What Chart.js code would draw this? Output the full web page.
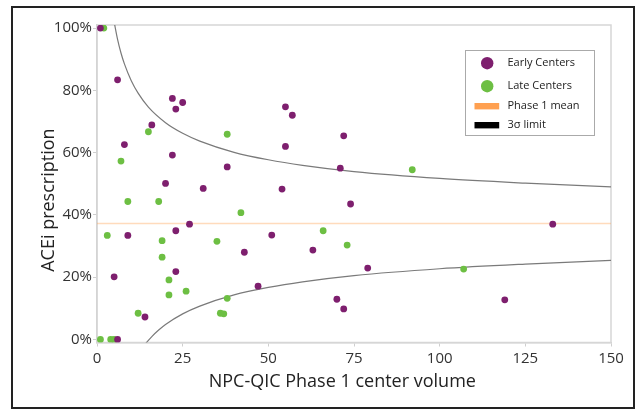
<!DOCTYPE html>
<html>
<head>
<meta charset="utf-8">
<script src="https://cdn.jsdelivr.net/npm/chart.js@4.4.1/dist/chart.umd.min.js"></script>
<style>
  body { margin: 0; background: #fff; }
  #frame { position: absolute; left: 11px; top: 6px; width: 620px; height: 399px; border: 2px solid #222; pointer-events: none; }
  canvas { position: absolute; left: 0; top: 0; }
</style>
</head>
<body>
<canvas id="chart" width="637" height="409"></canvas>
<div id="frame"></div>
<script>
const earlyVolume = [1, 6, 22, 25, 23, 16, 8, 22, 20, 31, 9, 23, 27, 23, 5, 14, 6, 55, 57, 72, 55, 38, 71, 54, 74, 51, 43, 63, 79, 47, 70, 72, 133, 119];
const earlyRate = [100, 83.4, 77.4, 76.1, 74.0, 68.9, 62.6, 59.2, 50.1, 48.5, 33.4, 34.9, 37.0, 21.8, 20.1, 7.2, 0, 74.7, 72.0, 65.4, 62.0, 55.4, 55.0, 48.3, 43.5, 33.5, 28.0, 28.7, 22.9, 17.1, 12.9, 9.8, 37.0, 12.7];

const lateVolume = [2, 15, 7, 9, 18, 3, 19, 35, 19, 21, 26, 21, 12, 36, 37, 1, 4, 5, 38, 92, 42, 66, 73, 38, 107];
const lateRate = [100, 66.7, 57.3, 44.3, 44.3, 33.4, 31.7, 31.5, 26.4, 19.1, 15.5, 14.3, 8.4, 8.4, 8.2, 0, 0, 0, 65.9, 54.5, 40.7, 34.9, 30.3, 13.2, 22.6];

const meanVolume = [0, 150];
const meanRate = [37.2, 37.2];

const upperVolume = [5, 6, 7, 8, 10, 12, 15, 20, 25, 30, 40, 50, 60, 75, 100, 125, 150];
const upperLimit = [102, 96.4, 92.0, 88.5, 83.1, 79.1, 74.6, 69.6, 66.2, 63.7, 60.1, 57.7, 55.9, 53.9, 51.7, 50.2, 49.0];
const lowerVolume = [14, 16, 18, 20, 25, 30, 40, 50, 60, 75, 100, 125, 150];
const lowerLimit = [-1.6, 0.9, 3.0, 4.8, 8.2, 10.7, 14.3, 16.7, 18.5, 20.5, 22.7, 24.2, 25.4];

const xTicks = [0, 25, 50, 75, 100, 125, 150];
const yTicks = [0, 20, 40, 60, 80, 100];

function toPoints(xs, ys) {
  return xs.map((x, i) => ({ x: x, y: ys[i] }));
}

// legend box drawn inside the plot, like the original
const boxLegend = {
  id: 'boxLegend',
  afterDraw(chart) {
    const ctx = chart.ctx;
    const area = chart.chartArea;
    const left = area.right - 145.5;
    const top = area.top + 25.5;
    ctx.save();
    ctx.fillStyle = '#fff';
    ctx.fillRect(left, top, 129, 85);
    ctx.strokeStyle = '#aaa';
    ctx.lineWidth = 1;
    ctx.strokeRect(left, top, 129, 85);

    const items = [
      { text: 'Early Centers', color: '#7e1f6e', kind: 'dot', dy: 12.7 },
      { text: 'Late Centers', color: '#6dbf43', kind: 'dot', dy: 35.7 },
      { text: 'Phase 1 mean', color: '#ffa050', kind: 'bar', dy: 55.7 },
      { text: '3\u03c3 limit', color: '#000', kind: 'bar', dy: 74.7 },
    ];
    ctx.font = '11px "Open Sans"';
    ctx.textBaseline = 'middle';
    for (let it of items) {
      const cy = top + it.dy;
      ctx.fillStyle = it.color;
      if (it.kind === 'dot') {
        ctx.beginPath();
        ctx.arc(left + 21.7, cy, 6.2, 0, Math.PI * 2);
        ctx.fill();
      } else {
        ctx.fillRect(left + 9, cy - 3.2, 24.7, 6.4);
      }
      ctx.fillStyle = '#222';
      ctx.fillText(it.text, left + 42, cy);
    }
    ctx.restore();
  },
};

// light grey box round the plot area
const plotFrame = {
  id: 'plotFrame',
  beforeDatasetsDraw(chart) {
    const a = chart.chartArea;
    const ctx = chart.ctx;
    ctx.save();
    ctx.strokeStyle = '#d6d6d6';
    ctx.lineWidth = 1.5;
    ctx.strokeRect(a.left, a.top, a.right - a.left, a.bottom - a.top);
    ctx.restore();
  },
};

new Chart(document.getElementById('chart'), {
  type: 'scatter',
  data: {
    datasets: [
      {
        label: 'Early Centers',
        data: toPoints(earlyVolume, earlyRate),
        backgroundColor: '#7e1f6e',
        borderWidth: 0,
        pointRadius: 3.4,
      },
      {
        label: 'Late Centers',
        data: toPoints(lateVolume, lateRate),
        backgroundColor: '#6dbf43',
        borderWidth: 0,
        pointRadius: 3.4,
      },
      {
        type: 'line',
        label: 'Phase 1 mean',
        data: toPoints(meanVolume, meanRate),
        borderColor: 'rgba(255,160,80,0.38)',
        borderWidth: 1.5,
        pointRadius: 0,
      },
      {
        type: 'line',
        label: '3\u03c3 limit',
        data: toPoints(upperVolume, upperLimit),
        borderColor: '#7a7a7a',
        borderWidth: 1.2,
        pointRadius: 0,
        cubicInterpolationMode: 'monotone',
      },
      {
        type: 'line',
        label: '3\u03c3 limit',
        data: toPoints(lowerVolume, lowerLimit),
        borderColor: '#7a7a7a',
        borderWidth: 1.2,
        pointRadius: 0,
        cubicInterpolationMode: 'monotone',
      },
    ],
  },
  options: {
    responsive: false,
    devicePixelRatio: 1,
    animation: false,
    layout: { padding: { left: 0, right: 26, top: 25, bottom: 0 } },
    plugins: {
      legend: { display: false },
      tooltip: { enabled: false },
    },
    scales: {
      x: {
        type: 'linear',
        min: 0,
        max: 150,
        afterBuildTicks: (scale) => { scale.ticks = xTicks.map((v) => ({ value: v })); },
        afterFit: (scale) => { scale.height = 66.5; },
        ticks: { color: '#333', font: { family: 'Open Sans', size: 15 }, padding: 3, maxRotation: 0 },
        grid: { drawOnChartArea: false, drawTicks: true, tickLength: 4, color: '#cfcfcf' },
        border: { color: '#cfcfcf', width: 1.5 },
        title: {
          display: true,
          text: 'NPC-QIC Phase 1 center volume     ',
          color: '#222',
          font: { family: 'Open Sans', size: 18 },
          padding: { top: 0, bottom: 16.5 },
        },
      },
      y: {
        type: 'linear',
        min: -1,
        max: 101,
        afterBuildTicks: (scale) => { scale.ticks = yTicks.map((v) => ({ value: v })); },
        afterFit: (scale) => { scale.width = 97; },
        ticks: {
          color: '#333',
          font: { family: 'Open Sans', size: 15 },
          padding: 1,
          callback: (v) => v + '%',
        },
        grid: { drawOnChartArea: false, drawTicks: true, tickLength: 4, color: '#cfcfcf' },
        border: { color: '#cfcfcf', width: 1.5 },
        title: {
          display: true,
          text: 'ACEi prescription       ',
          color: '#222',
          font: { family: 'Open Sans', size: 18 },
          padding: { top: 38, bottom: 0 },
        },
      },
    },
  },
  plugins: [plotFrame, boxLegend],
});
</script>
</body>
</html>
